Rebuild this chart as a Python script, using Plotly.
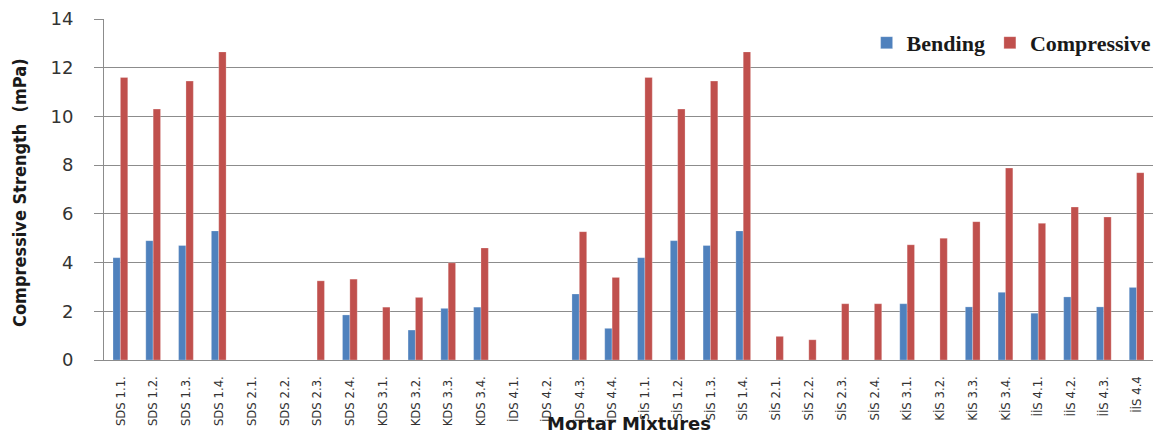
import plotly.graph_objects as go

categories = [
    "SDS 1.1.", "SDS 1.2.", "SDS 1.3.", "SDS 1.4.",
    "SDS 2.1.", "SDS 2.2.", "SDS 2.3.", "SDS 2.4.",
    "KDS 3.1.", "KDS 3.2.", "KDS 3.3.", "KDS 3.4.",
    "İDS 4.1.", "İDS 4.2.", "İDS 4.3.", "İDS 4.4.",
    "SİS 1.1.", "SİS 1.2.", "SİS 1.3.", "SİS 1.4.",
    "SİS 2.1.", "SİS 2.2.", "SİS 2.3.", "SİS 2.4.",
    "KİS 3.1.", "KİS 3.2.", "KİS 3.3.", "KİS 3.4.",
    "İİS 4.1.", "İİS 4.2.", "İİS 4.3.", "İİS 4.4",
]

bending = [
    4.2, 4.9, 4.7, 5.3,
    0, 0, 0, 1.85,
    0, 1.23, 2.12, 2.17,
    0, 0, 2.71, 1.3,
    4.2, 4.9, 4.7, 5.3,
    0, 0, 0, 0,
    2.31, 0, 2.18, 2.78,
    1.92, 2.59, 2.18, 2.98,
]

compressive = [
    11.6, 10.3, 11.45, 12.65,
    0, 0, 3.25, 3.32,
    2.17, 2.57, 3.99, 4.6,
    0, 0, 5.27, 3.39,
    11.6, 10.3, 11.45, 12.65,
    0.97, 0.83, 2.31, 2.31,
    4.73, 5.0, 5.68, 7.88,
    5.61, 6.28, 5.87, 7.69,
]

y_ticks = [0, 2, 4, 6, 8, 10, 12, 14]

fig = go.Figure()
fig.add_trace(go.Bar(
    x=categories, y=bending, name="Bending",
    marker=dict(color="#4F81BD", line=dict(color="rgba(255,255,255,0.5)", width=0.5)),
))
fig.add_trace(go.Bar(
    x=categories, y=compressive, name="Compressive",
    marker=dict(color="#C0504D", line=dict(color="rgba(255,255,255,0.5)", width=0.5)),
))

# page body has an 8px margin, so the figure is sized/offset to fill the window
fig.update_layout(
    width=1165, height=425,
    margin=dict(l=96, r=20, t=11, b=73, autoexpand=False),
    paper_bgcolor="white", plot_bgcolor="white",
    barmode="group", bargap=0.55, bargroupgap=0,
    showlegend=True,
    legend=dict(
        orientation="h", x=0.727, xanchor="left", y=0.93, yanchor="middle",
        font=dict(family="Liberation Serif", size=22, color="#1a1a1a", weight="bold"),
        bgcolor="rgba(0,0,0,0)", itemwidth=30, tracegroupgap=0,
    ),
    font=dict(family="DejaVu Sans", color="#333333"),
)

fig.update_yaxes(
    range=[0, 14], tickvals=y_ticks, ticktext=[str(v) for v in y_ticks],
    showgrid=True, gridcolor="#8c8c8c", gridwidth=1,
    showline=True, linecolor="#8c8c8c", linewidth=1,
    ticks="outside", ticklen=9, tickcolor="#8c8c8c",
    tickfont=dict(family="DejaVu Sans", size=18, color="#333333"),
    ticklabelstandoff=17, zeroline=False, automargin=False,
)
fig.update_xaxes(
    showline=True, linecolor="#8c8c8c", linewidth=1,
    tickangle=-90, ticks="",
    tickfont=dict(family="DejaVu Sans Condensed", size=13, color="#333333"),
    ticklabelstandoff=10, showgrid=False, automargin=False,
)

fig.add_annotation(
    text="<b>Compressive Strength  (mPa)</b>", textangle=-90,
    xref="paper", yref="paper", x=(20 - 104) / 1049, y=0.49,
    xanchor="center", yanchor="middle", showarrow=False,
    font=dict(family="DejaVu Sans Condensed", size=18, color="#1a1a1a"),
)
fig.add_annotation(
    text="<b>Mortar Mixtures</b>",
    xref="paper", yref="paper", x=(629 - 104) / 1049, y=(360 - 423) / 341,
    xanchor="center", yanchor="middle", showarrow=False,
    font=dict(family="DejaVu Sans", size=18, color="#1a1a1a"),
)

fig.write_html("out.html")
